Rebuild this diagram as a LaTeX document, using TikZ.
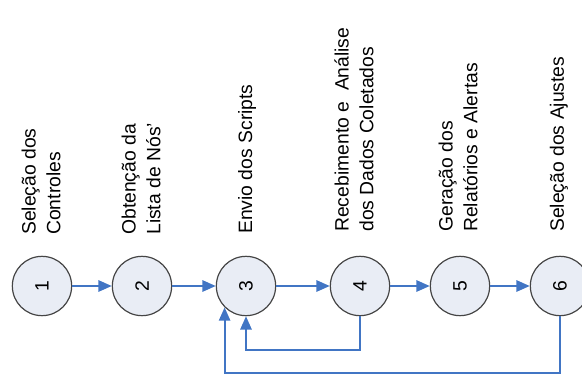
\documentclass[tikz,border=0pt]{standalone}
\usepackage{fontspec}
\setmainfont{Liberation Sans}
\usetikzlibrary{arrows.meta}
\definecolor{flowblue}{HTML}{4175C4}
\definecolor{stepfill}{HTML}{E9EDF5}
\definecolor{stepedge}{HTML}{454545}
\begin{document}
\begin{tikzpicture}[x=0.75pt,y=-0.75pt,
  stepcircle/.style={circle,draw=stepedge,fill=stepfill,line width=0.9pt,
    minimum size=44.5pt,inner sep=0pt,font=\fontsize{14.5}{17}\selectfont},
  steplabel/.style={rotate=90,anchor=west,align=left,inner sep=0pt,
    font=\fontsize{14.5}{18.6}\selectfont},
  flow/.style={draw=flowblue,line width=1.4pt,
    -{Triangle[length=10pt,width=8.5pt]}}]
\clip (0,0) rectangle (582,375);
\useasboundingbox (0,0) rectangle (582,375);

% process steps
\node[stepcircle] (c1) at (42,286) {\rotatebox{90}{1}};
\node[stepcircle] (c2) at (142,286) {\rotatebox{90}{2}};
\node[stepcircle] (c3) at (246,286) {\rotatebox{90}{3}};
\node[stepcircle] (c4) at (360,286) {\rotatebox{90}{4}};
\node[stepcircle] (c5) at (460,286) {\rotatebox{90}{5}};
\node[stepcircle] (c6) at (560,286) {\rotatebox{90}{6}};

% step descriptions
\node[steplabel] (t1) at (41,235) {Seleção dos\\Controles};
\node[steplabel] (t2) at (141,235) {Obtenção da\\Lista de Nós’};
\node[steplabel] (t3) at (247,234) {Envio dos Scripts};
\node[steplabel] (t4) at (354,232) {Recebimento e\ \ Análise\\dos Dados Coletados};
\node[steplabel] (t5) at (458,232) {Geração dos\\Relatórios e Alertas};
\node[steplabel] (t6) at (559,232) {Seleção dos Ajustes};

% main sequence
\draw[flow] (c1) -- (c2);
\draw[flow] (c2) -- (c3);
\draw[flow] (c3) -- (c4);
\draw[flow] (c4) -- (c5);
\draw[flow] (c5) -- (c6);

% feedback loops
\draw[flow] (c4.south) -- ++(0,34) -| (c3.south);
\draw[flow] (c6.south) -- ++(0,57) -| (c3.225);
\end{tikzpicture}
\end{document}
